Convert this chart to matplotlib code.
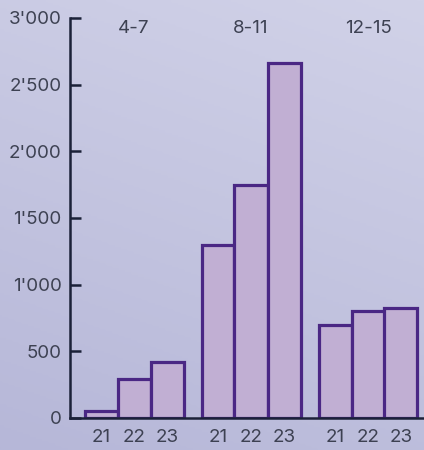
import numpy as np
import matplotlib
matplotlib.use("Agg")
import matplotlib.pyplot as plt
from matplotlib.colors import LinearSegmentedColormap

groups = ["4-7", "8-11", "12-15"]
years = ["21", "22", "23"]
values = [
    [50, 290, 420],
    [1300, 1750, 2660],
    [700, 800, 825],
]
yticks = [0, 500, 1000, 1500, 2000, 2500, 3000]
ytick_labels = ["0", "500", "1'000", "1'500", "2'000", "2'500", "3'000"]

plt.rcParams['font.family'] = ['Inter', 'DejaVu Sans']

fig = plt.figure(figsize=(4.24, 4.5), dpi=100)

# background gradient
bg = fig.add_axes([0, 0, 1, 1], zorder=-10)
yy, xx = np.mgrid[0:1:200j, 0:1:200j]
grad = 0.75 * yy + 0.25 * xx
cmap = LinearSegmentedColormap.from_list("bg", ["#b6b7d8", "#d1d2e8"])
bg.imshow(grad, cmap=cmap, origin="lower", extent=[0, 1, 0, 1], aspect="auto")
bg.axis("off")

ax = fig.add_axes([70 / 424, 32 / 450, 1 - 70 / 424, 400 / 450])
ax.patch.set_alpha(0)

fill = "#c1afd3"
edge = "#4a2784"
step = 117 / 33
positions = []
labels = []
for g, vals in enumerate(values):
    for j, v in enumerate(vals):
        x = g * step + j
        positions.append(x)
        labels.append(years[j])
        ax.bar(x, v, width=1.0, color=fill, edgecolor=edge, linewidth=2.3, zorder=2)
    ax.text(g * step + 1, 2920, groups[g], ha="center", va="center",
            fontsize=13.5, color="#3d4152")

ax.set_xlim((70 - 101) / 33, (424 - 101) / 33)
ax.set_ylim(0, 3000)
ax.set_yticks(yticks)
ax.set_yticklabels(ytick_labels)
ax.set_xticks(positions)
ax.set_xticklabels(labels)

for s in ["top", "right"]:
    ax.spines[s].set_visible(False)
for s in ["left", "bottom"]:
    ax.spines[s].set_color("#1b2138")
    ax.spines[s].set_linewidth(1.8)
ax.spines["bottom"].set_zorder(3)

ax.tick_params(axis="y", direction="in", length=8, width=1.8, color="#1b2138",
               labelsize=13.5, labelcolor="#3d4152", pad=6)
ax.tick_params(axis="x", length=0, labelsize=13.5, labelcolor="#3d4152", pad=8)

fig.savefig("out.png", dpi=100)
